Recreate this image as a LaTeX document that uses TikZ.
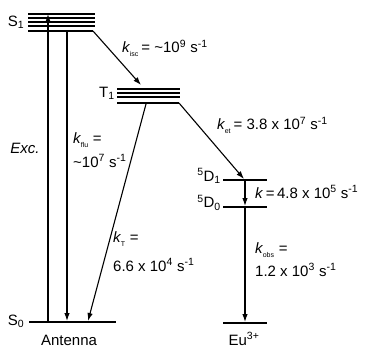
\documentclass[tikz,border=0pt]{standalone}
\usepackage{fontspec}
\setmainfont{Liberation Sans}
\usetikzlibrary{arrows.meta}
\newcommand{\ksub}[1]{\textit{k}\textsubscript{\kern-0.5pt\raisebox{-1.5pt}{\scriptsize #1}}}
\begin{document}
\begin{tikzpicture}[x=1pt, y=-1pt, >={Latex[length=8pt,width=5.5pt]}, font=\fontsize{15}{17}\selectfont,
  level/.style={line width=1.1pt},
  groundlevel/.style={line width=2.6pt},
  trans/.style={->, line width=1.1pt},
  lbl/.style={inner sep=0pt, anchor=west}]
\useasboundingbox (0,0) rectangle (365,348);
% S1 and T1 manifolds
\foreach \y in {14,18,22,26} \draw[level] (28,\y) -- (95,\y);
\draw[groundlevel] (28,31) -- (93,31);
\foreach \y in {89,93,97} \draw[level] (117,\y) -- (180,\y);
\draw[groundlevel] (117,103) -- (179,103);
% ground states and Eu levels
\draw[groundlevel] (29,322) -- (116,322);
\draw[groundlevel] (223,180) -- (267,180);
\draw[groundlevel] (223,207) -- (267,207);
\draw[groundlevel] (223,323) -- (267,323);
% end points
\coordinate (excbot) at (48,321);
\coordinate (exctop) at (48,14);
\coordinate (flutop) at (67,32);
\coordinate (flubot) at (67,321);
\coordinate (iscfrom) at (93,31);
\coordinate (iscto) at (141,85);
\coordinate (ttop) at (146,104);
\coordinate (tbot) at (88,321);
\coordinate (etfrom) at (179,103);
\coordinate (etto) at (244,179);
\coordinate (dOne) at (245,181);
\coordinate (dZero) at (245,206);
\coordinate (dZeroB) at (245,208);
\coordinate (euzero) at (245,322);
% transitions
\draw[trans] (excbot) -- (exctop);
\draw[trans] (flutop) -- (flubot);
\draw[trans] (iscfrom) -- (iscto);
\draw[trans] (ttop) -- (tbot);
\draw[trans] (etfrom) -- (etto);
\draw[trans] (dOne) -- (dZero);
\draw[trans] (dZeroB) -- (euzero);
% labels
\node (sone) at (16,22) {S\textsubscript{1}};
\node (tone) at (107,93) {T\textsubscript{1}};
\node (szero) at (16,321) {S\textsubscript{0}};
\node (antenna) at (69,340) {Antenna};
\node (eu) at (244,339) {Eu\textsuperscript{3+}};
\node[anchor=east, inner sep=0pt] (dOnelbl) at (221,176) {\textsuperscript{5}D\textsubscript{1}};
\node[anchor=east, inner sep=0pt] (dZerolbl) at (221,203) {\textsuperscript{5}D\textsubscript{0}};
\node (exc) at (25,148) {\textit{Exc.}};
\node[lbl] (kisc) at (122,48) {\ksub{isc}\,= \textasciitilde10\textsuperscript{9} s\textsuperscript{-1}};
\node[lbl] (ket) at (217,125) {\ksub{et}\,= 3.8 x 10\textsuperscript{7} s\textsuperscript{-1}};
\node[lbl] (kflu) at (73,140) {\ksub{flu} =};
\node[lbl] (kfluval) at (73,161) {\textasciitilde10\textsuperscript{7} s\textsuperscript{-1}};
\node[lbl] (kT) at (113,239) {\ksub{T} =};
\node[lbl] (kTval) at (113,265) {6.6 x 10\textsuperscript{4} s\textsuperscript{-1}};
\node[lbl] (kD) at (255,192) {\textit{k}\,=\,4.8 x 10\textsuperscript{5} s\textsuperscript{-1}};
\node[lbl] (kobs) at (255,250) {\ksub{obs} =};
\node[lbl] (kobsval) at (255,270) {1.2 x 10\textsuperscript{3} s\textsuperscript{-1}};
\end{tikzpicture}
\end{document}
